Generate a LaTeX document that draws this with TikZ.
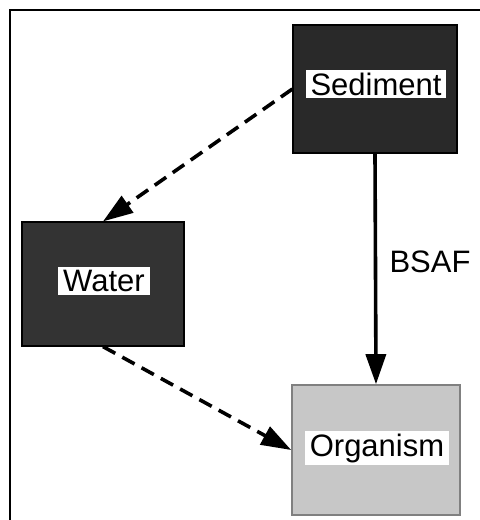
\documentclass[tikz,border=0pt]{standalone}
\usepackage{fontspec}
\setmainfont{Liberation Sans}
\usepackage{xcolor}
\usepackage{tikz}
\usetikzlibrary{arrows.meta}

\begin{document}
\begin{tikzpicture}[x=0.5pt,y=-0.5pt]
        \tikzstyle{every node}+=[font=\fontsize{15.5}{18}\selectfont]
        \tikzstyle{darkbox}=[draw=black, fill=black!84, line width=0.6pt, inner sep=0pt]
        \tikzstyle{lightbox}=[draw=black!50, fill=black!22, line width=0.8pt, inner sep=0pt]
        \tikzstyle{boxlabel}=[fill=white, inner xsep=2.5pt, inner ysep=1.5pt]
        \tikzstyle{flow}=[line width=1.8pt, -{Triangle[length=15pt,width=10pt]}]
        \useasboundingbox (0,0) rectangle (480,520);
        \draw [black, line width=1pt] (10,530) -- (10,10) -- (490,10);
        % compartments
        \node [darkbox, minimum width=82pt, minimum height=64pt] (sed) at (375,89) {};
        \node [boxlabel] (sedlabel) at (376,84) {Sediment};
        \node [darkbox, fill=black!80, minimum width=81pt, minimum height=62pt] (wat) at (103,284) {};
        \node [boxlabel] (watlabel) at (104,281) {Water};
        \node [lightbox, minimum width=84pt, minimum height=65pt] (org) at (376,450) {};
        \node [boxlabel] (orglabel) at (377,448) {Organism};
        % transfers
        \draw [flow, dash pattern=on 7pt off 4pt] (sed.west) -- (wat.north);
        \draw [flow, dash pattern=on 7pt off 4pt] (wat.south) -- (org.west);
        \draw [flow] (sed.south) -- (org.north);
        \node (bsaf) at (430,262) {BSAF};
\end{tikzpicture}
\end{document}
